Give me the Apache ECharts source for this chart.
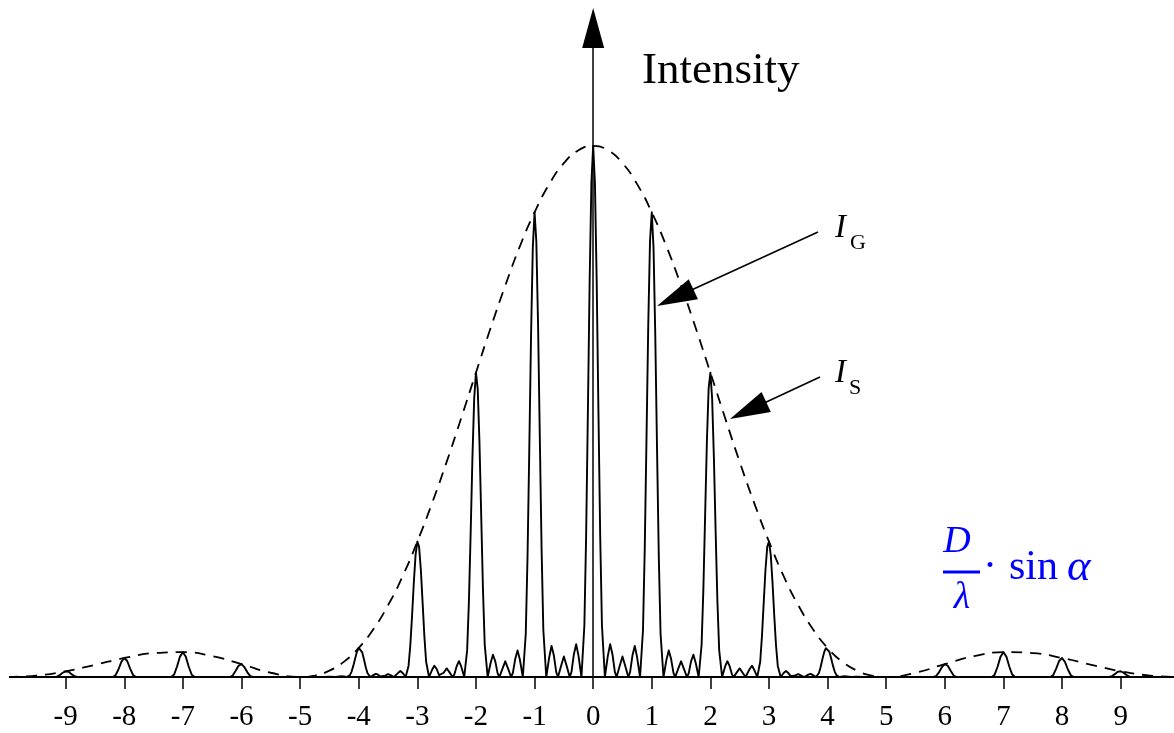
<!DOCTYPE html>
<html>
<head>
<meta charset="utf-8">
<script src="https://cdn.jsdelivr.net/npm/echarts@6/dist/echarts.min.js"></script>
<style>
  html, body { margin: 0; padding: 0; background: #fff; }
  #chart { width: 1174px; height: 733px; }
</style>
</head>
<body>
<div id="chart"></div>
<script>
// tick values on the D/lambda * sin(alpha) axis
const xTicks = [-9, -8, -7, -6, -5, -4, -3, -2, -1, 0, 1, 2, 3, 4, 5, 6, 7, 8, 9]

// single slit envelope I_S (percent of central maximum)
const envelope = [
  [-10, 0], [-9.5, 0.27], [-9, 1.08], [-8.5, 2.3], [-8, 3.58], [-7.5, 4.5], [-7, 4.68],
  [-6.5, 3.92], [-6, 2.43], [-5.5, 0.8], [-5, 0], [-4.75, 0.28], [-4.5, 1.2], [-4.25, 2.89],
  [-4, 5.47], [-3.75, 9.0], [-3.5, 13.5], [-3.25, 19.0], [-3, 25.5], [-2.75, 32.7],
  [-2.5, 40.5], [-2.25, 48.8], [-2, 57.3], [-1.75, 65.7], [-1.5, 73.7], [-1.25, 81.1],
  [-1, 87.5], [-0.75, 92.8], [-0.5, 96.75], [-0.25, 99.2], [0, 100],
  [0.25, 99.2], [0.5, 96.75], [0.75, 92.8], [1, 87.5], [1.25, 81.1], [1.5, 73.7],
  [1.75, 65.7], [2, 57.3], [2.25, 48.8], [2.5, 40.5], [2.75, 32.7], [3, 25.5], [3.25, 19.0],
  [3.5, 13.5], [3.75, 9.0], [4, 5.47], [4.25, 2.89], [4.5, 1.2], [4.75, 0.28], [5, 0],
  [5.5, 0.8], [6, 2.43], [6.5, 3.92], [7, 4.68], [7.5, 4.5], [8, 3.58], [8.5, 2.3],
  [9, 1.08], [9.5, 0.27], [10, 0]
]

// grating intensity I_G (percent of central maximum)
const intensity = [
  [-10, 0],
  [-9.2, 0], [-9.15, 0.08], [-9.1, 0.37], [-9.05, 0.8], [-9, 1.08], [-8.95, 0.97], [-8.9, 0.54], [-8.85, 0.14], [-8.8, 0],
  [-8.2, 0], [-8.15, 0.32], [-8.1, 1.41], [-8.05, 2.84], [-8, 3.58], [-7.95, 3.01], [-7.9, 1.59], [-7.85, 0.38], [-7.8, 0],
  [-7.2, 0], [-7.15, 0.46], [-7.1, 1.97], [-7.05, 3.84], [-7, 4.68], [-6.95, 3.79], [-6.9, 1.93], [-6.85, 0.44], [-6.8, 0],
  [-6.2, 0], [-6.15, 0.28], [-6.1, 1.16], [-6.05, 2.12], [-6, 2.43], [-5.95, 1.85], [-5.9, 0.88], [-5.85, 0.18], [-5.8, 0],
  [-4.8, 0], [-4.71, 0.02], [-4.6, 0], [-4.5, 0.05], [-4.4, 0], [-4.29, 0.16], [-4.2, 0],
  [-4.15, 0.35], [-4.12, 1.07], [-4.09, 2.19], [-4.06, 3.54], [-4.03, 4.75], [-4, 5.47],
  [-3.97, 5.43], [-3.94, 4.63], [-3.91, 3.29], [-3.88, 1.85], [-3.85, 0.71], [-3.8, 0],
  [-3.75, 0.36], [-3.71, 0.6], [-3.67, 0.44], [-3.63, 0.11], [-3.6, 0],
  [-3.55, 0.26], [-3.5, 0.54], [-3.45, 0.3], [-3.4, 0],
  [-3.37, 0.16], [-3.33, 0.74], [-3.29, 1.13], [-3.25, 0.76], [-3.2, 0],
  [-3.15, 2.08], [-3.12, 5.93], [-3.09, 11.5], [-3.06, 17.8], [-3.03, 23.0], [-3, 25.5],
  [-2.97, 24.5], [-2.94, 20.2], [-2.91, 14.0], [-2.88, 7.69], [-2.85, 2.87], [-2.8, 0],
  [-2.75, 1.31], [-2.71, 2.12], [-2.67, 1.51], [-2.63, 0.36], [-2.6, 0],
  [-2.55, 0.8], [-2.5, 1.62], [-2.45, 0.87], [-2.4, 0],
  [-2.37, 0.44], [-2.33, 1.98], [-2.29, 2.97], [-2.25, 1.95], [-2.2, 0],
  [-2.15, 5.06], [-2.12, 14.2], [-2.09, 27.2], [-2.06, 41.3], [-2.03, 52.4], [-2, 57.3],
  [-1.97, 54.3], [-1.94, 44.2], [-1.91, 30.3], [-1.88, 16.4], [-1.85, 6.05], [-1.8, 0],
  [-1.75, 2.63], [-1.71, 4.19], [-1.67, 2.93], [-1.63, 0.68], [-1.6, 0],
  [-1.55, 1.48], [-1.5, 2.95], [-1.45, 1.54], [-1.4, 0],
  [-1.37, 0.76], [-1.33, 3.38], [-1.29, 4.99], [-1.25, 3.24], [-1.2, 0],
  [-1.15, 8.1], [-1.12, 22.6], [-1.09, 42.8], [-1.06, 64.2], [-1.03, 80.8], [-1, 87.5],
  [-0.97, 82.1], [-0.94, 66.3], [-0.91, 44.9], [-0.88, 24.1], [-0.85, 8.8], [-0.8, 0],
  [-0.75, 3.71], [-0.71, 5.84], [-0.67, 4.04], [-0.63, 0.93], [-0.6, 0],
  [-0.55, 1.97], [-0.5, 3.87], [-0.45, 2.0], [-0.4, 0],
  [-0.37, 0.96], [-0.33, 4.23], [-0.29, 6.18], [-0.25, 3.97], [-0.2, 0],
  [-0.15, 9.7], [-0.12, 26.6], [-0.09, 50.0], [-0.06, 74.6], [-0.03, 93.1],
  [0, 100],
  [0.03, 93.1], [0.06, 74.6], [0.09, 50.0], [0.12, 26.6], [0.15, 9.7], [0.2, 0],
  [0.25, 3.97], [0.29, 6.18], [0.33, 4.23], [0.37, 0.96], [0.4, 0],
  [0.45, 2.0], [0.5, 3.87], [0.55, 1.97], [0.6, 0],
  [0.63, 0.93], [0.67, 4.04], [0.71, 5.84], [0.75, 3.71], [0.8, 0],
  [0.85, 8.8], [0.88, 24.1], [0.91, 44.9], [0.94, 66.3], [0.97, 82.1], [1, 87.5],
  [1.03, 80.8], [1.06, 64.2], [1.09, 42.8], [1.12, 22.6], [1.15, 8.1], [1.2, 0],
  [1.25, 3.24], [1.29, 4.99], [1.33, 3.38], [1.37, 0.76], [1.4, 0],
  [1.45, 1.54], [1.5, 2.95], [1.55, 1.48], [1.6, 0],
  [1.63, 0.68], [1.67, 2.93], [1.71, 4.19], [1.75, 2.63], [1.8, 0],
  [1.85, 6.05], [1.88, 16.4], [1.91, 30.3], [1.94, 44.2], [1.97, 54.3], [2, 57.3],
  [2.03, 52.4], [2.06, 41.3], [2.09, 27.2], [2.12, 14.2], [2.15, 5.06], [2.2, 0],
  [2.25, 1.95], [2.29, 2.97], [2.33, 1.98], [2.37, 0.44], [2.4, 0],
  [2.45, 0.87], [2.5, 1.62], [2.55, 0.8], [2.6, 0],
  [2.63, 0.36], [2.67, 1.51], [2.71, 2.12], [2.75, 1.31], [2.8, 0],
  [2.85, 2.87], [2.88, 7.69], [2.91, 14.0], [2.94, 20.2], [2.97, 24.5], [3, 25.5],
  [3.03, 23.0], [3.06, 17.8], [3.09, 11.5], [3.12, 5.93], [3.15, 2.08], [3.2, 0],
  [3.25, 0.76], [3.29, 1.13], [3.33, 0.74], [3.37, 0.16], [3.4, 0],
  [3.45, 0.3], [3.5, 0.54], [3.55, 0.26], [3.6, 0],
  [3.63, 0.11], [3.67, 0.44], [3.71, 0.6], [3.75, 0.36], [3.8, 0],
  [3.85, 0.71], [3.88, 1.85], [3.91, 3.29], [3.94, 4.63], [3.97, 5.43], [4, 5.47],
  [4.03, 4.75], [4.06, 3.54], [4.09, 2.19], [4.12, 1.07], [4.15, 0.35], [4.2, 0],
  [4.29, 0.16], [4.4, 0], [4.5, 0.05], [4.6, 0], [4.71, 0.02], [4.8, 0],
  [5.8, 0], [5.85, 0.18], [5.9, 0.88], [5.95, 1.85], [6, 2.43], [6.05, 2.12], [6.1, 1.16], [6.15, 0.28], [6.2, 0],
  [6.8, 0], [6.85, 0.44], [6.9, 1.93], [6.95, 3.79], [7, 4.68], [7.05, 3.84], [7.1, 1.97], [7.15, 0.46], [7.2, 0],
  [7.8, 0], [7.85, 0.38], [7.9, 1.59], [7.95, 3.01], [8, 3.58], [8.05, 2.84], [8.1, 1.41], [8.15, 0.32], [8.2, 0],
  [8.8, 0], [8.85, 0.14], [8.9, 0.54], [8.95, 0.97], [9, 1.08], [9.05, 0.8], [9.1, 0.37], [9.15, 0.08], [9.2, 0],
  [10, 0]
]

const serif = '"Liberation Serif", "Times New Roman", serif'
const blue = '#0000ff'

const txt = (x, y, text, font, fill, align) => ({
  type: 'text', x, y,
  style: { text, font, fill, align, verticalAlign: 'middle', textAlign: align, textVerticalAlign: 'middle' }
})

const chart = echarts.init(document.getElementById('chart'))

chart.setOption({
  backgroundColor: '#fff',
  animation: false,
  grid: { left: 10, right: 0.6, top: 28, bottom: 56 },
  xAxis: {
    type: 'value',
    min: -9.95,
    max: 9.9,
    splitLine: { show: false },
    axisLine: { lineStyle: { color: '#000', width: 2 } },
    axisTick: {
      customValues: xTicks,
      length: 12,
      lineStyle: { color: '#000', width: 1.5 }
    },
    axisLabel: {
      customValues: xTicks,
      margin: 40,
      verticalAlign: 'middle',
      color: '#000',
      fontFamily: serif,
      fontSize: 29
    }
  },
  yAxis: {
    type: 'value',
    min: 0,
    max: 122.2,
    splitLine: { show: false },
    axisTick: { show: false },
    axisLabel: { show: false },
    axisLine: {
      onZero: true,
      symbol: ['none', 'triangle'],
      symbolSize: [22, 40],
      lineStyle: { color: '#000', width: 1.5 }
    }
  },
  series: [
    {
      name: 'I_S',
      type: 'line',
      data: envelope,
      smooth: true,
      showSymbol: false,
      silent: true,
      lineStyle: { color: '#000', width: 1.8, type: [11, 8] },
      z: 2
    },
    {
      name: 'I_G',
      type: 'line',
      data: intensity,
      showSymbol: false,
      silent: true,
      lineStyle: { color: '#000', width: 1.9, join: 'round' },
      z: 3,
      markLine: {
        silent: true,
        symbol: ['none', 'triangle'],
        label: { show: false },
        lineStyle: { color: '#000', width: 1.6, type: 'solid' },
        data: [
          [{ coord: [3.836, 83.8] }, { coord: [1.399, 71.44], symbolSize: [22, 40] }],
          [{ coord: [3.870, 56.5] }, { coord: [2.643, 50.19], symbolSize: [22, 40] }]
        ]
      }
    }
  ],
  graphic: [
    txt(642, 71, 'Intensity', '45px ' + serif, '#000', 'left'),
    txt(835, 228, 'I', 'italic 33px ' + serif, '#000', 'left'),
    txt(850, 243, 'G', '22px ' + serif, '#000', 'left'),
    txt(835, 373, 'I', 'italic 33px ' + serif, '#000', 'left'),
    txt(849, 388, 'S', '22px ' + serif, '#000', 'left'),
    txt(957, 542, 'D', 'italic 38px ' + serif, blue, 'center'),
    {
      type: 'line',
      shape: { x1: 943, y1: 572, x2: 980, y2: 572 },
      style: { stroke: blue, lineWidth: 3 }
    },
    txt(962, 598, 'λ', 'italic 38px ' + serif, blue, 'center'),
    txt(990, 568, '·', '42px ' + serif, blue, 'center'),
    txt(1009, 568, 'sin', '42px ' + serif, blue, 'left'),
    txt(1067, 568, 'α', 'italic 45px ' + serif, blue, 'left')
  ]
})

window.addEventListener('resize', () => {
  chart.resize()
})
</script>
</body>
</html>
